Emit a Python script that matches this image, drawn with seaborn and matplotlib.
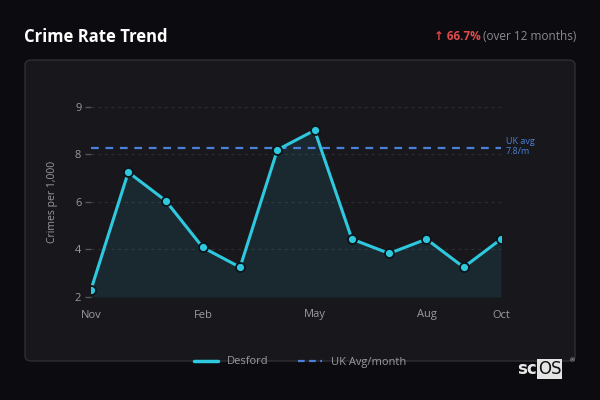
import pandas as pd
import seaborn as sns
import matplotlib.pyplot as plt
from matplotlib.patches import FancyBboxPatch
from matplotlib.lines import Line2D

# Data
months = ['Nov', 'Dec', 'Jan', 'Feb', 'Mar', 'Apr', 'May', 'Jun', 'Jul', 'Aug', 'Sep', 'Oct']
desford = [2.31, 7.24, 6.05, 4.08, 3.25, 8.18, 9.0, 4.43, 3.83, 4.43, 3.25, 4.43]
uk_avg = 8.25
tick_months = ['Nov', 'Feb', 'May', 'Aug', 'Oct']
y_ticks = [2, 4, 6, 8, 10]
y_tick_labels = ['2', '4', '6', '8', '9']

df = pd.DataFrame({'month': months, 'rate': desford})
df['idx'] = range(len(df))

bg = '#0c0b10'
card = '#18171c'
cyan = '#2ec8df'
blue = '#4a80d8'
grey = '#9a9a9f'

sns.set_style('dark')
plt.rcParams['font.family'] = ['Open Sans', 'DejaVu Sans']

fig = plt.figure(figsize=(6, 4), dpi=100, facecolor=bg)

# card behind the plot
fig.patches.append(FancyBboxPatch((25 / 600, 1 - 361 / 400), 550 / 600, 301 / 400,
                                  boxstyle='round,pad=0,rounding_size=0.012',
                                  transform=fig.transFigure, facecolor=card,
                                  edgecolor='#2f2e34', linewidth=1, zorder=-5))

ax = fig.add_axes([91 / 600, 1 - 297 / 400, 410 / 600, 190.5 / 400])
ax.set_zorder(2)
ax.set_facecolor('none')

ax.fill_between(df['idx'], 2, df['rate'], color=cyan, alpha=0.1, linewidth=0)
sns.lineplot(data=df, x='idx', y='rate', ax=ax, color=cyan, linewidth=2.2,
             marker='o', markersize=6.5, markerfacecolor=cyan,
             markeredgecolor='#0b1418', markeredgewidth=1.3, zorder=4)
ax.axhline(uk_avg, color=blue, linestyle=(0, (3.5, 3)), linewidth=1.6, zorder=3)
ax.text(len(months) - 1 + 0.13, uk_avg + 0.07, 'UK avg\n7.8/m', color=blue,
        fontsize=6.5, va='center', ha='left', linespacing=1.15)

ax.set_xlim(0, len(months) - 1)
ax.set_ylim(2, 10)
ax.set_xticks([months.index(m) for m in tick_months])
ax.set_xticklabels(tick_months)
ax.set_yticks(y_ticks)
ax.set_yticklabels(y_tick_labels)
ax.tick_params(axis='y', colors='#555', labelcolor=grey, labelsize=8,
               length=4, width=1, left=True, pad=3)
ax.tick_params(axis='x', labelcolor=grey, labelsize=8, length=0, pad=9)
ax.grid(axis='y', color='#2c2b31', linestyle=(0, (3, 3)), linewidth=0.8)
ax.grid(axis='x', visible=False)
for s in ax.spines.values():
    s.set_visible(False)
ax.set_xlabel('')
ax.set_ylabel('Crimes per 1,000', color=grey, fontsize=7.5, labelpad=12)

# header
fig.text(24 / 600, 1 - 37 / 400, 'Crime Rate Trend', color='white',
         fontsize=12, fontweight='bold', va='center', ha='left')
t1 = fig.text(576 / 600, 1 - 37 / 400, '(over 12 months)', color='#8a8a90',
              fontsize=8.5, va='center', ha='right')
fig.canvas.draw()
bb = t1.get_window_extent()
fig.text((bb.x0 - 2) / 600, 1 - 37 / 400, '↑ 66.7%', color='#e04a4a',
         fontsize=8.5, fontweight='bold', va='center', ha='right')

# legend
handles = [Line2D([0], [0], color=cyan, linewidth=2.5),
           Line2D([0], [0], color=blue, linewidth=1.6, linestyle=(0, (3, 2)))]
fig.legend(handles, ['Desford', 'UK Avg/month'], loc='center',
           bbox_to_anchor=(300 / 600, 1 - 362 / 400), ncol=2, frameon=False,
           labelcolor=grey, fontsize=8, handlelength=2.2, columnspacing=2.6)

# logo
fig.text(517 / 600, 1 - 369 / 400, 'sc', color='#e8e8e8', fontsize=12,
         fontweight='bold', family='DejaVu Sans', va='center', ha='left')
fig.text(538 / 600, 1 - 369 / 400, 'OS', color='#111', fontsize=12,
         family='DejaVu Sans', va='center', ha='left',
         bbox=dict(facecolor='#e4e4e4', edgecolor='none', pad=0.6))
fig.text(570 / 600, 1 - 361 / 400, '®', color='#ccc', fontsize=4.5,
         va='center', ha='left')

fig.savefig('out.png', dpi=100, facecolor=bg)
